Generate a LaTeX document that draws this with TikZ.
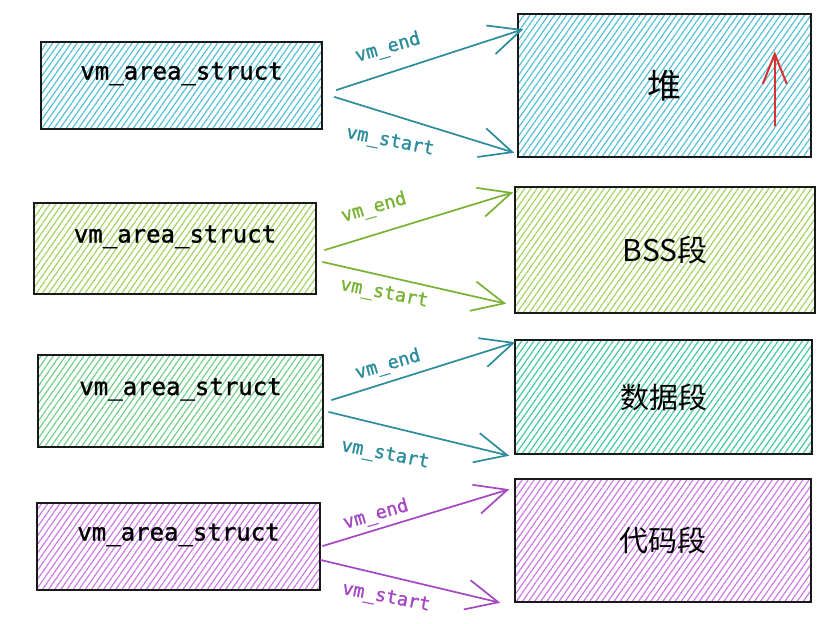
\documentclass[tikz,border=0pt]{standalone}
\usepackage{fontspec}
\newfontfamily\cjk{Noto Sans CJK SC}
\newfontfamily\codefont[FakeBold=1.2]{DejaVu Sans Mono}
\usetikzlibrary{patterns.meta,arrows.meta,calc}
\definecolor{hblue}{HTML}{4FC0D4}
\definecolor{hlime}{HTML}{9ED45C}
\definecolor{hgreen}{HTML}{6CCF88}
\definecolor{hteal}{HTML}{3CC99E}
\definecolor{hpurple}{HTML}{CB78E6}
\definecolor{ateal}{HTML}{2B8C9B}
\definecolor{alime}{HTML}{78B232}
\definecolor{apurple}{HTML}{A448C2}
\definecolor{ared}{HTML}{D93030}
\tikzset{
  hatchbox/.style={draw=black!90, line width=1.5pt, rectangle, inner sep=0pt,
    pattern={Lines[angle=55,distance=5pt,line width=1.15pt]}, pattern color=#1},
  leftbox/.style={hatchbox=#1, text height=17pt, text depth=29pt,
    font=\codefont\fontsize{24}{28}\selectfont},
  rightbox/.style={hatchbox=#1, font=\cjk\fontsize{30}{34}\selectfont},
  link/.style={draw=#1, line width=1.7pt, line cap=round,
    -{Straight Barb[length=32pt,width=30pt,line width=1.7pt]}},
  lab/.style={text=#1, font=\codefont\fontsize{18.5}{20}\selectfont, inner sep=0pt},
}
\begin{document}
\begin{tikzpicture}[x=1pt,y=-1pt]
\useasboundingbox (0,0) rectangle (833,624);
% left boxes
\node[leftbox=hblue, minimum width=281pt, minimum height=87pt] (l1) at (181.5,85.5) {vm\_area\_struct};
\node[leftbox=hlime, minimum width=282pt, minimum height=91pt] (l2) at (175,248.5) {vm\_area\_struct};
\node[leftbox=hgreen, minimum width=285pt, minimum height=92pt] (l3) at (180.5,401) {vm\_area\_struct};
\node[leftbox=hpurple, minimum width=283pt, minimum height=87pt] (l4) at (178.5,546.5) {vm\_area\_struct};
% right boxes
\node[rightbox=hblue, minimum width=293pt, minimum height=143pt, text height=36pt, text depth=10pt, font=\cjk\fontsize{34}{38}\selectfont] (r1) at (664.5,85.5) {堆};
\node[rightbox=hlime, minimum width=300pt, minimum height=126pt] (r2) at (665,250) {BSS段};
\node[rightbox=hteal, minimum width=297pt, minimum height=114pt, font=\cjk\fontsize{29}{33}\selectfont] (r3) at (663.5,397) {数据段};
\node[rightbox=hpurple, minimum width=296pt, minimum height=123pt, font=\cjk\fontsize{29}{33}\selectfont] (r4) at (663,540.5) {代码段};
% red growth arrow
\coordinate (g1) at ($(r1.south east)+(-37,-32)$);
\coordinate (g2) at ($(r1.north east)+(-37,38)$);
\draw[link=ared, line width=2pt, -{Straight Barb[length=30pt,width=24pt,line width=2pt]}] (g1) -- (g2);
% row 1
\coordinate (a1) at ($(l1.east)+(14,4.5)$);
\coordinate (b1) at ($(l1.east)+(12,11.5)$);
\coordinate (c1) at ($(r1.north west)+(6,16)$);
\coordinate (d1) at ($(r1.south west)+(-3,-5)$);
\draw[link=ateal] (a1) -- (c1);
\draw[link=ateal] (b1) -- (d1);
\node[lab=ateal, rotate=16] (e1) at (388,48) {vm\_end};
\node[lab=ateal, rotate=-11] (f1) at (390,142) {vm\_start};
% row 2
\coordinate (a2) at ($(l2.east)+(8,1.5)$);
\coordinate (b2) at ($(l2.east)+(6,13.5)$);
\coordinate (c2) at ($(r2.north west)+(-1,6)$);
\coordinate (d2) at ($(r2.south west)+(-8,-10)$);
\draw[link=alime] (a2) -- (c2);
\draw[link=alime] (b2) -- (d2);
\node[lab=alime, rotate=16] (e2) at (374,208) {vm\_end};
\node[lab=alime, rotate=-11] (f2) at (384,294) {vm\_start};
% row 3
\coordinate (a3) at ($(l3.east)+(8,-1)$);
\coordinate (b3) at ($(l3.east)+(5,11)$);
\coordinate (c3) at ($(r3.north west)+(1,3)$);
\coordinate (d3) at ($(r3.south west)+(-5,1)$);
\draw[link=ateal] (a3) -- (c3);
\draw[link=ateal] (b3) -- (d3);
\node[lab=ateal, rotate=16] (e3) at (388,365) {vm\_end};
\node[lab=ateal, rotate=-11] (f3) at (385,455) {vm\_start};
% row 4
\coordinate (a4) at ($(l4.east)+(2,-0.5)$);
\coordinate (b4) at ($(l4.east)+(0,13.5)$);
\coordinate (c4) at ($(r4.north west)+(-5,11)$);
\coordinate (d4) at ($(r4.south west)+(-14,0)$);
\draw[link=apurple] (a4) -- (c4);
\draw[link=apurple] (b4) -- (d4);
\node[lab=apurple, rotate=16] (e4) at (376,515) {vm\_end};
\node[lab=apurple, rotate=-11] (f4) at (386,598) {vm\_start};
\end{tikzpicture}
\end{document}
